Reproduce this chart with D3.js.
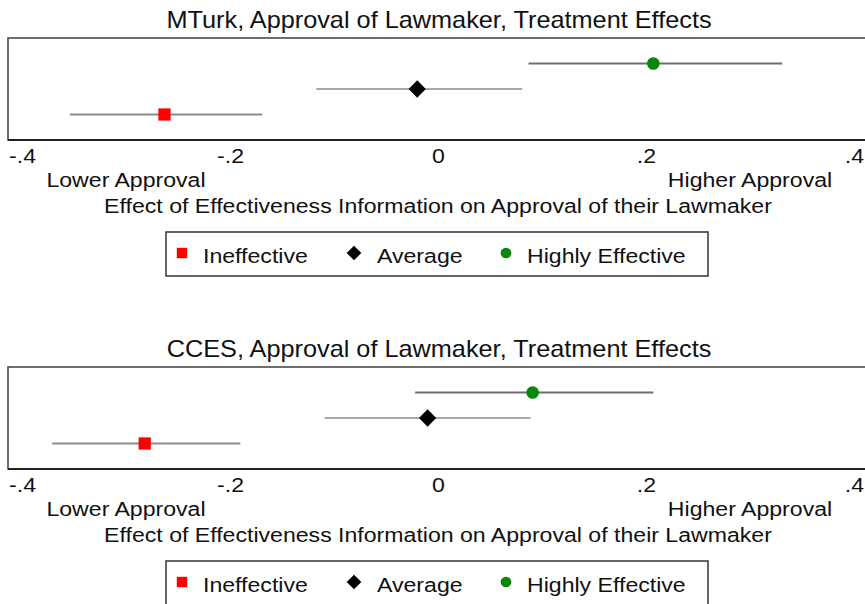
<!DOCTYPE html>
<html>
<head>
<meta charset="utf-8">
<script src="https://cdn.jsdelivr.net/npm/d3@7"></script>
<style>
  html, body { margin: 0; padding: 0; background: #fff; }
  svg { display: block; font-family: "Liberation Sans", Arial, Helvetica, sans-serif; }
</style>
</head>
<body>
<svg id="chart" width="865" height="604"></svg>
<script>
// ---- data ----
const categories = ["Ineffective", "Average", "Highly Effective"];
const mturkEst = [-0.263, -0.020, 0.207];
const mturkLo  = [-0.354, -0.117, 0.087];
const mturkHi  = [-0.169, 0.081, 0.331];
const ccesEst  = [-0.282, -0.010, 0.091];
const ccesLo   = [-0.371, -0.109, -0.022];
const ccesHi   = [-0.190, 0.089, 0.207];
const tickValues = [-0.4, -0.2, 0, 0.2, 0.4];
const tickLabels = ["-.4", "-.2", "0", ".2", ".4"];
const sideLabels = ["Lower Approval", "Higher Approval"];
const sideLabelPos = [-0.3, 0.3];
const panelTitles = ["MTurk, Approval of Lawmaker, Treatment Effects",
                     "CCES, Approval of Lawmaker, Treatment Effects"];
const xTitle = "Effect of Effectiveness Information on Approval of their Lawmaker";

// ---- styles ----
const markerColor = ["#ff0000", "#000000", "#0a860a"];
const ciColor = ["#8c8c8c", "#a8a8a8", "#6e6e6e"];
const rowPos = [1, 2, 3];
const SX = 1.1;   // horizontal stretch of the reference lettering
const FS = 21;

const svg = d3.select("#chart");
svg.append("rect").attr("width", 865).attr("height", 604).attr("fill", "#fff");

const x = d3.scaleLinear().domain([-0.4, 0.4]).range([22, 854]);

function symbolPath(i) {
  if (i === 0) return d3.symbol().type(d3.symbolSquare).size(150)();
  if (i === 1) return d3.symbol().type(d3.symbolDiamond2).size(190)();
  return d3.symbol().type(d3.symbolCircle).size(125)();
}

function addText(g, tx, ty, str, size, anchor) {
  return g.append("text")
    .attr("transform", `translate(${tx},${ty}) scale(${SX},1)`)
    .attr("text-anchor", anchor).attr("font-size", size).attr("fill", "#111")
    .text(str);
}

function drawPanel(offY, title, est, lo, hi) {
  const g = svg.append("g").attr("transform", `translate(0,${offY})`);
  const top = 38, bottom = 140;
  const y = d3.scaleLinear().domain([0, 4]).range([bottom, top]);

  addText(g, 439, 28, title, 23, "middle");

  // plot region box
  g.append("rect").attr("x", 8).attr("y", top).attr("width", 880).attr("height", bottom - top)
    .attr("fill", "none").attr("stroke", "#4a4a4a").attr("stroke-width", 1.6);

  // CI lines
  g.selectAll("line.ci").data(categories).join("line").attr("class", "ci")
    .attr("x1", (d, i) => x(lo[i])).attr("x2", (d, i) => x(hi[i]))
    .attr("y1", (d, i) => y(rowPos[i])).attr("y2", (d, i) => y(rowPos[i]))
    .attr("stroke", (d, i) => ciColor[i]).attr("stroke-width", 2);

  // markers
  g.selectAll("path.pt").data(categories).join("path").attr("class", "pt")
    .attr("d", (d, i) => symbolPath(i))
    .attr("transform", (d, i) => `translate(${x(est[i])},${y(rowPos[i])})`)
    .attr("fill", (d, i) => markerColor[i]);

  // axis
  const axis = d3.axisBottom(x).tickValues(tickValues)
    .tickFormat((d, i) => tickLabels[i]).tickSize(0).tickPadding(8);
  const ag = g.append("g").attr("transform", `translate(0,${bottom})`).call(axis);
  ag.select(".domain").attr("stroke", "#222").attr("stroke-width", 2)
    .attr("d", `M8,0H880`);
  ag.selectAll("text").attr("font-size", FS).attr("fill", "#111")
    .attr("font-family", "\"Liberation Sans\", Arial, sans-serif")
    .attr("transform", `scale(${SX},1)`);

  // side labels
  sideLabels.forEach((s, i) => addText(g, x(sideLabelPos[i]), 187, s, FS, "middle"));

  addText(g, 438, 213, xTitle, FS, "middle");

  // legend
  const lg = g.append("g");
  lg.append("rect").attr("x", 166).attr("y", 232).attr("width", 542).attr("height", 44)
    .attr("fill", "#fff").attr("stroke", "#333").attr("stroke-width", 1.5);
  const symX = [182, 354, 506];
  const txtX = [203, 377, 527];
  categories.forEach((c, i) => {
    lg.append("path").attr("d", symbolPath(i))
      .attr("transform", `translate(${symX[i]},253) scale(0.85)`)
      .attr("fill", markerColor[i]);
    addText(lg, txtX[i], 263, c, FS, "start");
  });
}

drawPanel(0, panelTitles[0], mturkEst, mturkLo, mturkHi);
drawPanel(329, panelTitles[1], ccesEst, ccesLo, ccesHi);
</script>
</body>
</html>
